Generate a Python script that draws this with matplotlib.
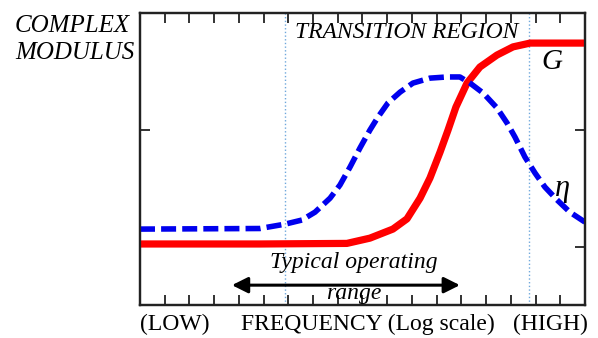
import matplotlib
matplotlib.use('Agg')
import matplotlib.pyplot as plt

# storage modulus G (red, solid)
g_x = [0, 4.85, 8.37, 9.30, 10.23, 10.80, 11.33, 11.73, 12.14, 12.46, 12.78, 13.23,
       13.75, 14.44, 15.09, 15.78, 18]
g_y = [0.209, 0.209, 0.211, 0.229, 0.260, 0.295, 0.366, 0.435, 0.524, 0.599, 0.678, 0.760,
       0.815, 0.856, 0.884, 0.897, 0.897]

# eta (blue, dashed)
eta_x = [0, 4.85, 5.87, 6.55, 7.08, 7.69, 8.09, 8.50, 8.90, 9.30, 9.63, 10.03, 10.52,
         11.04, 11.73, 12.42, 12.94, 13.35, 13.88, 14.44, 14.85, 15.17, 15.57, 15.98,
         16.38, 16.87, 17.39, 18]
eta_y = [0.260, 0.262, 0.277, 0.291, 0.318, 0.366, 0.411, 0.473, 0.538, 0.599, 0.644,
         0.692, 0.729, 0.760, 0.777, 0.781, 0.781, 0.760, 0.726, 0.675, 0.623, 0.575,
         0.507, 0.452, 0.404, 0.360, 0.318, 0.284]

region_lines = [5.87, 15.75]
range_ends = [3.72, 12.94]
bottom_labels = ['(LOW)', 'FREQUENCY (Log scale)', '(HIGH)']
bottom_pos = [1.42, 9.20, 16.59]

serif = 'Liberation Serif'

fig = plt.figure(figsize=(5.98, 3.38), dpi=100)
ax = fig.add_axes([0.2341, 0.0976, 0.7441, 0.8639])

ax.plot(g_x, g_y, color='#ff0000', lw=5.2, solid_capstyle='butt',
        solid_joinstyle='round', zorder=3)
ax.plot(eta_x, eta_y, color='#0000ee', lw=4, dashes=(2.7, 1.1),
        dash_joinstyle='round', zorder=4)

for xv in region_lines:
    ax.axvline(xv, color='#6fa8dc', lw=1, ls=':', zorder=1)

ax.annotate('', xy=(range_ends[0], 0.068), xytext=(range_ends[1], 0.068),
            arrowprops=dict(arrowstyle='<|-|>', color='black', lw=2.2,
                            mutation_scale=24, shrinkA=0, shrinkB=0))

ax.text(8.66, 0.144, 'Typical operating', ha='center', va='center',
        fontsize=17, style='italic', family=serif)
ax.text(8.66, 0.038, 'range', ha='center', va='center',
        fontsize=17, style='italic', family=serif)
ax.text(6.27, 0.932, 'TRANSITION REGION', ha='left', va='center',
        fontsize=17, style='italic', family=serif)
ax.text(16.67, 0.832, 'G', ha='center', va='center',
        fontsize=21, style='italic', family=serif)
ax.text(17.07, 0.40, 'η', ha='center', va='center',
        fontsize=22, style='italic', family=serif)

for lab, xp in zip(bottom_labels, bottom_pos):
    ax.text(xp, -0.068, lab, ha='center', va='center', fontsize=17, family=serif)

fig.text(0.025, 0.922, 'COMPLEX', ha='left', va='center',
         fontsize=18, style='italic', family=serif)
fig.text(0.025, 0.842, 'MODULUS', ha='left', va='center',
         fontsize=18, style='italic', family=serif)

ax.set_xlim(0, 18)
ax.set_ylim(0, 1)
ax.set_xticks(range(1, 18))
ax.set_yticks([0.6])
ax.tick_params(axis='x', direction='in', top=True, bottom=True, length=7,
               width=1.3, labelbottom=False, color='#222222')
ax.tick_params(axis='y', direction='in', left=True, right=False, length=7,
               width=1.3, labelleft=False, color='#222222')
ax2 = ax.twinx()
ax2.set_ylim(0, 1)
ax2.set_yticks([0.2, 0.6])
ax2.tick_params(axis='y', direction='in', length=7, width=1.3,
                labelright=False, color='#222222')
for a in (ax, ax2):
    for s in a.spines.values():
        s.set_linewidth(1.6)
        s.set_color('#222222')

fig.savefig('out.png', dpi=100)
